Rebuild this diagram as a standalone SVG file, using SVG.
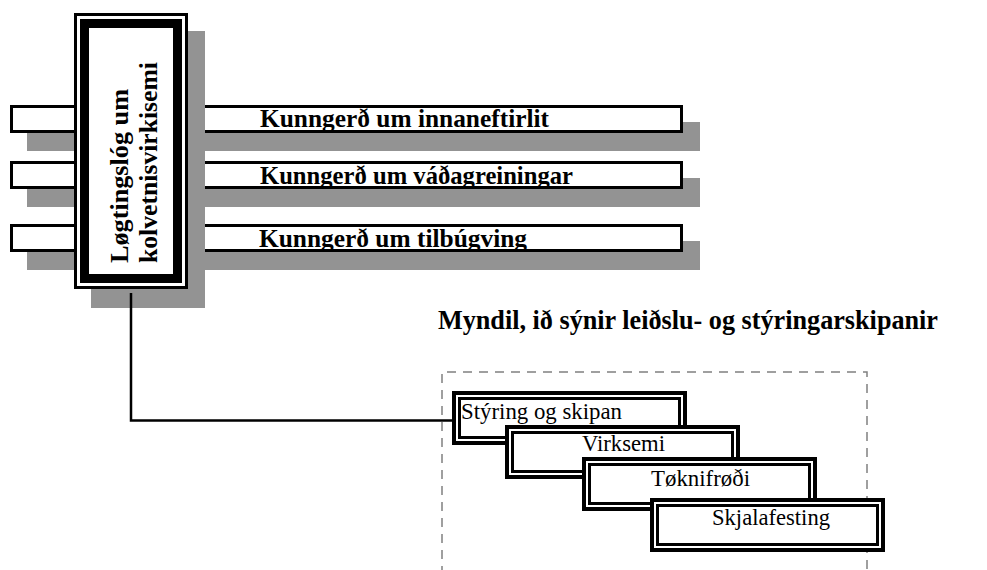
<svg xmlns="http://www.w3.org/2000/svg" xmlns:xlink="http://www.w3.org/1999/xlink" width="987" height="570" viewBox="0 0 987 570">
<style>
.shadow{fill:#939393;stroke:none}
.bar{fill:#fff;stroke:#000;stroke-width:3}
.conn{fill:none;stroke:#000;stroke-width:2.5}
.frame{fill:none;stroke:#808080;stroke-width:1.5;stroke-dasharray:9 7}
.b{font-family:"Liberation Serif","DejaVu Serif",serif;font-weight:bold;fill:#000}
.r{font-family:"Liberation Serif","DejaVu Serif",serif;font-weight:normal;fill:#000}
</style>
<defs>
<g id="dbox">
<rect x="2" y="2" width="231" height="50" fill="#fff" stroke="#000" stroke-width="4"/>
<rect x="7.5" y="7.5" width="220" height="39" fill="none" stroke="#000" stroke-width="3"/>
</g>
</defs>
<rect width="987" height="570" fill="#fff"/>

<g id="bar-innaneftirlit">
<rect class="shadow" x="27" y="122" width="673" height="29"/>
<rect class="bar" x="11.5" y="106.5" width="670" height="25"/>
<text class="b" font-size="26" x="260" y="127" textLength="289" lengthAdjust="spacingAndGlyphs">Kunngerð um innaneftirlit</text>
</g>
<g id="bar-vadagreiningar">
<rect class="shadow" x="27" y="178" width="673" height="29"/>
<rect class="bar" x="11.5" y="162.5" width="670" height="25"/>
<text class="b" font-size="26" x="260" y="184" textLength="313" lengthAdjust="spacingAndGlyphs">Kunngerð um váðagreiningar</text>
</g>
<g id="bar-tilbugving">
<rect class="shadow" x="27" y="241" width="673" height="29"/>
<rect class="bar" x="11.5" y="225.5" width="670" height="25"/>
<text class="b" font-size="26" x="259" y="247" textLength="268" lengthAdjust="spacingAndGlyphs">Kunngerð um tilbúgving</text>
</g>

<g id="main-law">
<rect class="shadow" x="91" y="31" width="114" height="277"/>
<rect x="75.5" y="14.5" width="111" height="273" fill="#fff" stroke="#000" stroke-width="3"/>
<rect x="84.5" y="23.5" width="93" height="255" fill="#fff" stroke="#000" stroke-width="9"/>
<text class="b" font-size="26" transform="translate(128,263) rotate(-90)" textLength="174" lengthAdjust="spacingAndGlyphs">Løgtingslóg um</text>
<text class="b" font-size="26" transform="translate(157,263) rotate(-90)" textLength="201" lengthAdjust="spacingAndGlyphs">kolvetnisvirkisemi</text>
</g>

<g id="title">
<text class="b" font-size="27" x="438" y="329" textLength="500" lengthAdjust="spacingAndGlyphs">Myndil, ið sýnir leiðslu- og stýringarskipanir</text>
</g>

<g id="frame">
<path class="frame" d="M442,575 V372 H867 V575"/>
</g>

<g id="connectors">
<path class="conn" d="M131,293 V420.5 H457"/>
</g>

<g id="n-styring">
<use xlink:href="#dbox" x="452" y="391"/>
<text class="r" font-size="23" x="461" y="419" textLength="161" lengthAdjust="spacingAndGlyphs">Stýring og skipan</text>
</g>
<g id="n-virksemi">
<use xlink:href="#dbox" x="505" y="425"/>
<text class="r" font-size="23" x="582" y="451" textLength="83" lengthAdjust="spacingAndGlyphs">Virksemi</text>
</g>
<g id="n-toknifrodi">
<use xlink:href="#dbox" x="582" y="457"/>
<text class="r" font-size="23" x="651" y="486" textLength="99" lengthAdjust="spacingAndGlyphs">Tøknifrøði</text>
</g>
<g id="n-skjalafesting">
<use xlink:href="#dbox" x="650" y="498"/>
<text class="r" font-size="23" x="712" y="525" textLength="118" lengthAdjust="spacingAndGlyphs">Skjalafesting</text>
</g>
</svg>
